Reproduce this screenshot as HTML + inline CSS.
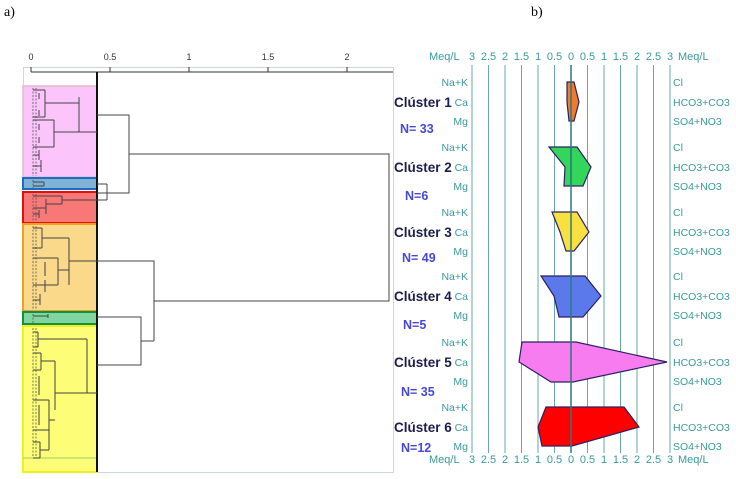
<!DOCTYPE html>
<html><head><meta charset="utf-8"><style>
body{margin:0;background:#fff;width:736px;height:479px;overflow:hidden}
svg{display:block;font-family:"Liberation Sans",sans-serif}
</style></head><body>
<svg width="736" height="479" viewBox="0 0 736 479">
<text x="4" y="16" font-family="Liberation Serif" font-size="14">a)</text>
<text x="531" y="16" font-family="Liberation Serif" font-size="14">b)</text>
<rect x="23.5" y="67.5" width="370" height="405" fill="none" stroke="#c8d8e0"/>
<line x1="31" y1="72" x2="393" y2="72" stroke="#333"/>
<g stroke="#333"><line x1="31" y1="67" x2="31" y2="72"/><line x1="110" y1="67" x2="110" y2="72"/><line x1="189" y1="67" x2="189" y2="72"/><line x1="268" y1="67" x2="268" y2="72"/><line x1="347" y1="67" x2="347" y2="72"/></g>
<g font-size="9" fill="#333" text-anchor="middle"><text x="31" y="60">0</text><text x="110" y="60">0.5</text><text x="189" y="60">1</text><text x="268" y="60">1.5</text><text x="347" y="60">2</text></g>
<rect x="23" y="86" width="74" height="91" fill="#fbc4fb" stroke="#e8b8c8" stroke-width="1.5"/>
<rect x="23" y="178" width="74" height="11" fill="#7fb2d6" stroke="#1a6fc4" stroke-width="2"/>
<rect x="23" y="192" width="74" height="31" fill="#f87878" stroke="#e01010" stroke-width="2"/>
<rect x="23" y="224" width="74" height="87" fill="#fbd98a" stroke="#f0a020" stroke-width="2"/>
<rect x="23" y="312" width="74" height="12" fill="#7fd6a0" stroke="#109040" stroke-width="2"/>
<rect x="23" y="326" width="74" height="146" fill="#fdfd78" stroke="#f0f020" stroke-width="2"/>
<line x1="23" y1="458" x2="97" y2="458" stroke="#a0d060"/>
<line x1="97" y1="72" x2="97" y2="472" stroke="#111" stroke-width="2"/>
<g fill="none" stroke="#555" stroke-width="0.8" stroke-dasharray="2 1.5">
<line x1="33" y1="88" x2="33" y2="176"/><line x1="33" y1="180" x2="33" y2="188"/><line x1="33" y1="194" x2="33" y2="222"/><line x1="33" y1="226" x2="33" y2="310"/><line x1="33" y1="314" x2="33" y2="323"/><line x1="33" y1="328" x2="33" y2="456"/>
<line x1="36" y1="88" x2="36" y2="176"/><line x1="36" y1="194" x2="36" y2="222"/><line x1="36" y1="226" x2="36" y2="310"/><line x1="36" y1="328" x2="36" y2="456"/>
</g>
<g fill="none" stroke="#444" stroke-width="1">
<path d="M97 115H129V193H97M129 154H389V301H154M107 184V200M97 184H107M97 200H107M107 193H129"/>
<path d="M97 261H154V341M141 341H154M97 317H141V365H97"/>
<path d="M45 90V117M33 90H45M33 117H45M45 103H79M79 97V132H97M54 120V147M33 120H54M33 147H54M54 132H79M39 93V99M39 110V116M39 124V130M39 137V143M39 150V160M33 155H39M41 160V172M33 166H41"/>
<path d="M33 182H44M33 186H44M44 182V186"/>
<path d="M62 200H97M62 196V204M33 196H62M46 204H62M46 199V214M33 208H46M39 210V218M33 214H39"/>
<path d="M42 228V248M33 228H42M33 248H42M42 238H69M69 238V285M58 258V285M33 258H58M33 285H58M58 270H69M69 261H97M45 262V276M45 280V292M40 294V305M33 300H40"/>
<path d="M33 316H48M48 314V318"/>
<path d="M38 332V347M33 332H38M33 347H38M41 353V370M33 353H41M33 370H41M38 339H87M41 361H55M55 361V410M87 339V393H97M55 393H87M49 400V430M33 400H49M33 430H49M49 420H55M40 442V458M33 442H40M33 458H40M40 450H49M49 430V450M39 376V395M39 405V425"/>
</g>
<g stroke="#6aa8a8" stroke-width="1">
<line x1="472" y1="65" x2="472" y2="453"/><line x1="488.5" y1="65" x2="488.5" y2="453"/><line x1="505" y1="65" x2="505" y2="453"/><line x1="521.5" y1="65" x2="521.5" y2="453"/><line x1="538" y1="65" x2="538" y2="453"/><line x1="554.5" y1="65" x2="554.5" y2="453"/>
<line x1="587.5" y1="65" x2="587.5" y2="453"/><line x1="604" y1="65" x2="604" y2="453"/><line x1="620.5" y1="65" x2="620.5" y2="453"/><line x1="637" y1="65" x2="637" y2="453"/><line x1="653.5" y1="65" x2="653.5" y2="453"/><line x1="670" y1="65" x2="670" y2="453"/>
</g>
<g stroke="#2a2060" stroke-width="1.2">
<polygon fill="#f07b2c" points="567,82 574,82 579,102 574,121 569,121 567,102"/>
<polygon fill="#33d65a" points="549,147 577,147 591,167 583,186 564,186 565,167"/>
<polygon fill="#f7e040" points="552,212 577,212 589,232 574,251 566,251 560,232"/>
<polygon fill="#5b79ea" points="541,276 585,276 601,296 583,317 559,317 554,296"/>
<polygon fill="#f77cf0" points="522,342 576,342 667,362 573,382 551,382 519,362"/>
<polygon fill="#f00" points="546,407 624,407 639,427 572,446 542,446 538,427"/>
</g>
<line x1="571" y1="65" x2="571" y2="453" stroke="#2a7a7a" stroke-width="1.5"/>
<g font-size="11" fill="#3a9a9a">
<text x="429" y="60">Meq/L</text><text x="678" y="60">Meq/L</text>
<text x="429" y="463">Meq/L</text><text x="678" y="463">Meq/L</text>
</g>
<g font-size="11" fill="#3a9a9a" text-anchor="middle">
<text x="472" y="60">3</text><text x="488.5" y="60">2.5</text><text x="505" y="60">2</text><text x="521.5" y="60">1.5</text><text x="538" y="60">1</text><text x="554.5" y="60">0.5</text><text x="571" y="60">0</text><text x="587.5" y="60">0.5</text><text x="604" y="60">1</text><text x="620.5" y="60">1.5</text><text x="637" y="60">2</text><text x="653.5" y="60">2.5</text><text x="670" y="60">3</text>
<text x="472" y="463">3</text><text x="488.5" y="463">2.5</text><text x="505" y="463">2</text><text x="521.5" y="463">1.5</text><text x="538" y="463">1</text><text x="554.5" y="463">0.5</text><text x="571" y="463">0</text><text x="587.5" y="463">0.5</text><text x="604" y="463">1</text><text x="620.5" y="463">1.5</text><text x="637" y="463">2</text><text x="653.5" y="463">2.5</text><text x="670" y="463">3</text>
</g>
<g font-size="10.5" fill="#3a9a9a">
<g text-anchor="end">
<text x="468" y="86">Na+K</text><text x="468" y="106">Ca</text><text x="468" y="125">Mg</text>
<text x="468" y="151">Na+K</text><text x="468" y="171">Ca</text><text x="468" y="190">Mg</text>
<text x="468" y="216">Na+K</text><text x="468" y="236">Ca</text><text x="468" y="255">Mg</text>
<text x="468" y="280">Na+K</text><text x="468" y="300">Ca</text><text x="468" y="319">Mg</text>
<text x="468" y="346">Na+K</text><text x="468" y="366">Ca</text><text x="468" y="385">Mg</text>
<text x="468" y="411">Na+K</text><text x="468" y="431">Ca</text><text x="468" y="450">Mg</text>
</g>
<text x="673" y="86">Cl</text><text x="673" y="106">HCO3+CO3</text><text x="673" y="125">SO4+NO3</text>
<text x="673" y="151">Cl</text><text x="673" y="171">HCO3+CO3</text><text x="673" y="190">SO4+NO3</text>
<text x="673" y="216">Cl</text><text x="673" y="236">HCO3+CO3</text><text x="673" y="255">SO4+NO3</text>
<text x="673" y="280">Cl</text><text x="673" y="300">HCO3+CO3</text><text x="673" y="319">SO4+NO3</text>
<text x="673" y="346">Cl</text><text x="673" y="366">HCO3+CO3</text><text x="673" y="385">SO4+NO3</text>
<text x="673" y="411">Cl</text><text x="673" y="431">HCO3+CO3</text><text x="673" y="450">SO4+NO3</text>
</g>
<g font-size="13.5" font-weight="bold" fill="#1c1c50">
<text x="394" y="107">Clúster 1</text><text x="394" y="172">Clúster 2</text><text x="394" y="237">Clúster 3</text>
<text x="394" y="301">Clúster 4</text><text x="394" y="367">Clúster 5</text><text x="394" y="432">Clúster 6</text>
</g>
<g font-size="12.5" font-weight="bold" fill="#4848d8">
<text x="400" y="133">N= 33</text><text x="405" y="200">N=6</text><text x="402" y="262">N= 49</text>
<text x="403" y="329">N=5</text><text x="401" y="396">N= 35</text><text x="401" y="452">N=12</text>
</g>
</svg>
</body></html>
